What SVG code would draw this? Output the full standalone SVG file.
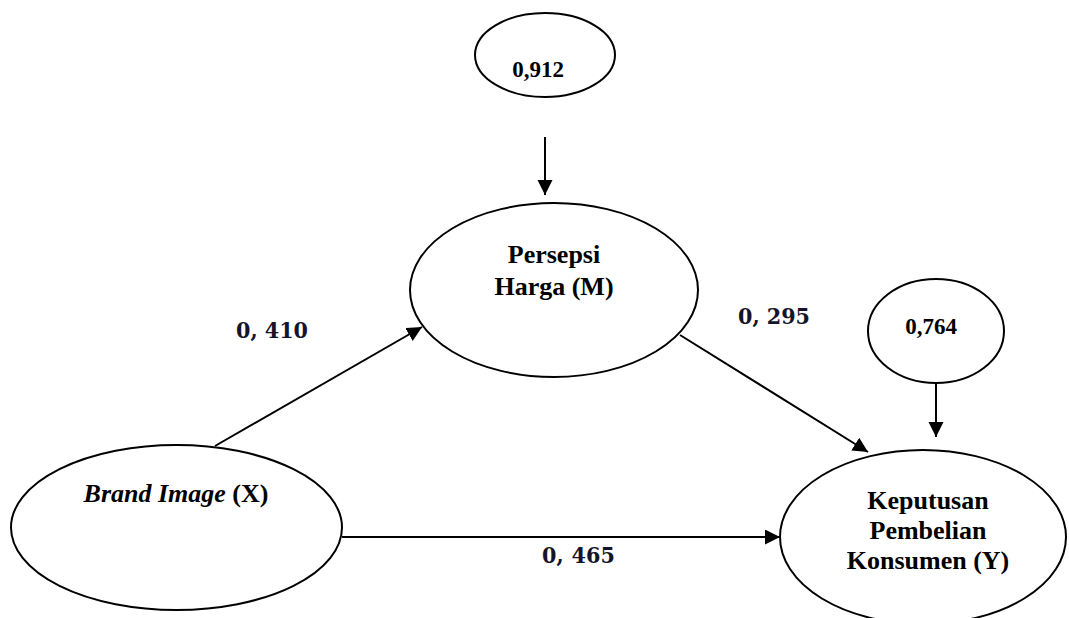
<svg xmlns="http://www.w3.org/2000/svg" width="1069" height="618" viewBox="0 0 1069 618">
<style>
.node{fill:#fff;stroke:#000;stroke-width:2}
.t{font-family:"Liberation Serif","Times New Roman",serif;font-weight:bold;font-size:26px;fill:#000;text-anchor:middle}
.v{font-family:"Liberation Serif","Times New Roman",serif;font-weight:bold;font-size:23px;fill:#000;text-anchor:middle}
.lbl{font-family:"DejaVu Serif Condensed","DejaVu Serif",serif;font-stretch:condensed;font-weight:bold;font-size:23px;fill:#14142a}
.c{stroke:#000;stroke-width:2;fill:none;marker-end:url(#ah)}
</style>
<defs>
<marker id="ah" markerUnits="userSpaceOnUse" markerWidth="16" markerHeight="16" refX="15" refY="7.5" orient="auto">
<path d="M0,0 L15,7.5 L0,15 Z" fill="#000"/>
</marker>
</defs>
<rect width="1069" height="618" fill="#fff"/>
<g id="connectors">
<line class="c" x1="215" y1="446" x2="422" y2="327"/>
<line class="c" x1="680" y1="335" x2="868" y2="452"/>
<line class="c" x1="342" y1="537" x2="780" y2="537"/>
<line class="c" x1="545" y1="137" x2="545" y2="195"/>
<line class="c" x1="936" y1="378" x2="936" y2="437"/>
</g>
<g id="labels">
<text class="lbl" x="236" y="338" textLength="72">0, 410</text>
<text class="lbl" x="738" y="324" textLength="72">0, 295</text>
<text class="lbl" x="542" y="563" textLength="73">0, 465</text>
</g>
<g id="nodeX">
<ellipse class="node" cx="176.5" cy="527.5" rx="165.5" ry="82.5"/>
<text class="t" x="176" y="502"><tspan font-style="italic">Brand Image</tspan> (X)</text>
</g>
<g id="nodeM">
<ellipse class="node" cx="554" cy="290" rx="144" ry="87"/>
<text class="t" x="554" y="263">Persepsi</text>
<text class="t" x="554" y="295">Harga (M)</text>
</g>
<g id="nodeY">
<ellipse class="node" cx="923" cy="537" rx="143" ry="87"/>
<text class="t" x="928" y="509">Keputusan</text>
<text class="t" x="928" y="539">Pembelian</text>
<text class="t" x="928" y="569">Konsumen (Y)</text>
</g>
<g id="errM">
<ellipse class="node" cx="545" cy="55" rx="70" ry="42"/>
<text class="v" x="538" y="77">0,912</text>
</g>
<g id="errY">
<ellipse class="node" cx="936" cy="331" rx="68" ry="52"/>
<text class="v" x="931" y="334">0,764</text>
</g>
</svg>
